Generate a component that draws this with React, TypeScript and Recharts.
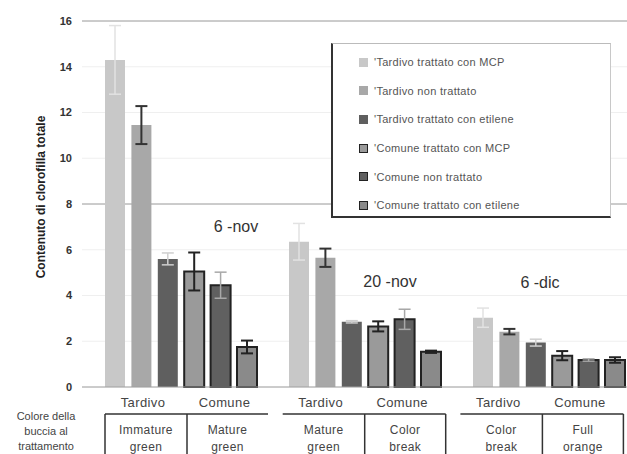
import React from "react";
import { BarChart, Bar, XAxis, YAxis, CartesianGrid, ErrorBar, ReferenceDot } from "recharts";

// Harvest dates (one bar group each)
const dates = ["6 nov", "20 nov", "6 dic"];
const dateLabels = ["6 -nov", "20 -nov", "6 -dic"];
const dateLabelLevel = [7.0, 4.6, 4.55];

const seriesNames = [
  "'Tardivo trattato con MCP",
  "'Tardivo non trattato",
  "'Tardivo trattato con etilene",
  "'Comune trattato con MCP",
  "'Comune non trattato",
  "'Comune trattato con etilene",
];

// Total chlorophyll, mean and error per date
const tardivoMcp = [14.3, 6.35, 3.03];
const tardivoMcpErr = [1.5, 0.8, 0.42];
const tardivoNonTrattato = [11.45, 5.65, 2.42];
const tardivoNonTrattatoErr = [0.83, 0.4, 0.12];
const tardivoEtilene = [5.6, 2.85, 1.94];
const tardivoEtileneErr = [0.26, 0.05, 0.15];
const comuneMcp = [5.05, 2.65, 1.37];
const comuneMcpErr = [0.83, 0.22, 0.2];
const comuneNonTrattato = [4.45, 2.96, 1.18];
const comuneNonTrattatoErr = [0.57, 0.44, 0.05];
const comuneEtilene = [1.75, 1.54, 1.18];
const comuneEtileneErr = [0.28, 0.05, 0.12];

const yTicks = [0, 2, 4, 6, 8, 10, 12, 14, 16];
const cultivars = ["Tardivo", "Comune"];
const peelColour = [
  [["Immature", "green"], ["Mature", "green"]],
  [["Mature", "green"], ["Color", "break"]],
  [["Color", "break"], ["Full", "orange"]],
];

const values = [tardivoMcp, tardivoNonTrattato, tardivoEtilene, comuneMcp, comuneNonTrattato, comuneEtilene];
const errors = [tardivoMcpErr, tardivoNonTrattatoErr, tardivoEtileneErr, comuneMcpErr, comuneNonTrattatoErr, comuneEtileneErr];

const data = dates.map((date, i) => {
  const row: any = { date };
  values.forEach((v, k) => {
    row[`s${k}`] = v[i];
    row[`e${k}`] = errors[k][i];
  });
  return row;
});

const seriesStyle = [
  { fill: "#c8c8c8", stroke: undefined, err: "#e2e2e2", errWidth: 1.5 },
  { fill: "#a8a8a8", stroke: undefined, err: "#333", errWidth: 2 },
  { fill: "#5f5f5f", stroke: undefined, err: "#cfcfcf", errWidth: 1.5 },
  { fill: "#9a9a9a", stroke: "#222", err: "#222", errWidth: 2 },
  { fill: "#606060", stroke: "#222", err: "#a8a8a8", errWidth: 1.5 },
  { fill: "#8a8a8a", stroke: "#222", err: "#222", errWidth: 2 },
];

// horizontal offset of each date label from its group centre
const dateLabelDx = [55, 25, -9];
// which outer edges of the peel-colour table get a vertical rule
const tableEdges = [
  { left: true, right: false },
  { left: false, right: true },
  { left: false, right: true },
];

const FONT = "'Liberation Sans', Arial, sans-serif";

const PeelTick = (props: any) => {
  const { x, y, index } = props;
  const shift = -6.3 * index;
  const left = x - 76 + shift;
  const mid = x + 6 + shift;
  const right = x + 87 + shift;
  const cells = [(left + mid) / 2, (mid + right) / 2];
  const edges = tableEdges[index];
  const ruleTop = y + 27;
  return (
    <g fontFamily={FONT}>
      {cultivars.map((c, j) => (
        <text key={c} x={cells[j] - 3} y={y + 20} textAnchor="middle" fontSize={13} fill="#444" letterSpacing={0.4}>
          {c}
        </text>
      ))}
      <line x1={left} x2={right} y1={ruleTop} y2={ruleTop} stroke="#333" strokeWidth={1.5} />
      <line x1={mid} x2={mid} y1={ruleTop} y2={ruleTop + 50} stroke="#333" strokeWidth={1.5} />
      {edges.left && <line x1={left} x2={left} y1={ruleTop} y2={ruleTop + 50} stroke="#333" strokeWidth={1.5} />}
      {edges.right && <line x1={right} x2={right} y1={ruleTop} y2={ruleTop + 50} stroke="#333" strokeWidth={1.5} />}
      {peelColour[index].map((lines, j) => (
        <text key={j} textAnchor="middle" fontSize={12} fill="#444" letterSpacing={0.4}>
          <tspan x={cells[j]} y={y + 47}>{lines[0]}</tspan>
          <tspan x={cells[j]} y={y + 64}>{lines[1]}</tspan>
        </text>
      ))}
    </g>
  );
};

const YTitle = (props: any) => {
  const { viewBox } = props;
  const cx = viewBox.x + 9;
  const cy = viewBox.y + viewBox.height / 2 - 7;
  return (
    <text
      x={cx}
      y={cy}
      transform={`rotate(-90, ${cx}, ${cy})`}
      textAnchor="middle"
      dominantBaseline="central"
      fontFamily={FONT}
      fontSize={12}
      fontWeight={600}
      fill="#222"
    >
      Contenuto di clorofilla totale
    </text>
  );
};

export default function App() {
  return (
    <div
      style={{
        position: "absolute",
        left: 0,
        top: 0,
        width: 627,
        height: 454,
        overflow: "hidden",
        background: "#fff",
        fontFamily: FONT,
      }}
    >
      <BarChart
        width={645}
        height={454}
        data={data}
        margin={{ top: 21, right: 4, left: 32, bottom: 0 }}
        barSize={20}
        barGap={6.4}
      >
        <CartesianGrid vertical={false} stroke="#efefef" />
        <CartesianGrid vertical={false} horizontalValues={[8, 16]} stroke="#a0a0a0" />
        <XAxis
          dataKey="date"
          interval={0}
          height={67}
          padding={{ left: 7, right: 0 }}
          tickLine={false}
          tickSize={0}
          tickMargin={0}
          axisLine={{ stroke: "#a0a0a0" }}
          tick={<PeelTick />}
        />
        <YAxis
          width={50}
          domain={[0, 16]}
          ticks={yTicks}
          interval={0}
          axisLine={false}
          tickLine={false}
          tickSize={8}
          tick={{ fontSize: 11, fontWeight: 700, fill: "#333", fontFamily: FONT }}
          label={<YTitle />}
        />
        {seriesStyle.map((s, k) => (
          <Bar
            key={k}
            dataKey={`s${k}`}
            name={seriesNames[k]}
            fill={s.fill}
            stroke={s.stroke}
            strokeWidth={s.stroke ? 2 : 0}
            isAnimationActive={false}
          >
            <ErrorBar dataKey={`e${k}`} width={6} stroke={s.err} strokeWidth={s.errWidth} />
          </Bar>
        ))}
        {dates.map((d, i) => (
          <ReferenceDot
            key={d}
            x={d}
            y={dateLabelLevel[i]}
            r={0}
            ifOverflow="visible"
            shape={(p: any) => (
              <text
                x={p.cx + dateLabelDx[i]}
                y={p.cy}
                textAnchor="middle"
                dominantBaseline="central"
                fontFamily={FONT}
                fontSize={16}
                fill="#333"
              >
                {dateLabels[i]}
              </text>
            )}
          />
        ))}
      </BarChart>

      {/* legend box */}
      <div
        style={{
          position: "absolute",
          left: 331,
          top: 43,
          width: 280,
          height: 175,
          boxSizing: "border-box",
          background: "#fff",
          borderLeft: "2px solid #333",
          borderBottom: "2px solid #333",
          borderTop: "1px solid #bbb",
          borderRight: "1px solid #c8c8c8",
          paddingTop: 4,
          paddingLeft: 26,
        }}
      >
        {seriesNames.map((n, k) => (
          <div key={n} style={{ height: 28.6, display: "flex", alignItems: "center" }}>
            <span
              style={{
                display: "inline-block",
                width: 9,
                height: 9,
                boxSizing: "border-box",
                background: seriesStyle[k].fill,
                border: seriesStyle[k].stroke ? `1px solid ${seriesStyle[k].stroke}` : "none",
                marginRight: 6,
              }}
            />
            <span style={{ fontSize: 11, color: "#555", letterSpacing: 0.3 }}>{n}</span>
          </div>
        ))}
      </div>

      {/* row heading for the peel-colour table */}
      <div
        style={{
          position: "absolute",
          left: 6,
          top: 409,
          width: 80,
          textAlign: "center",
          fontSize: 11,
          lineHeight: "15px",
          color: "#444",
        }}
      >
        Colore della
        <br />
        buccia al
        <br />
        trattamento
      </div>
    </div>
  );
}
